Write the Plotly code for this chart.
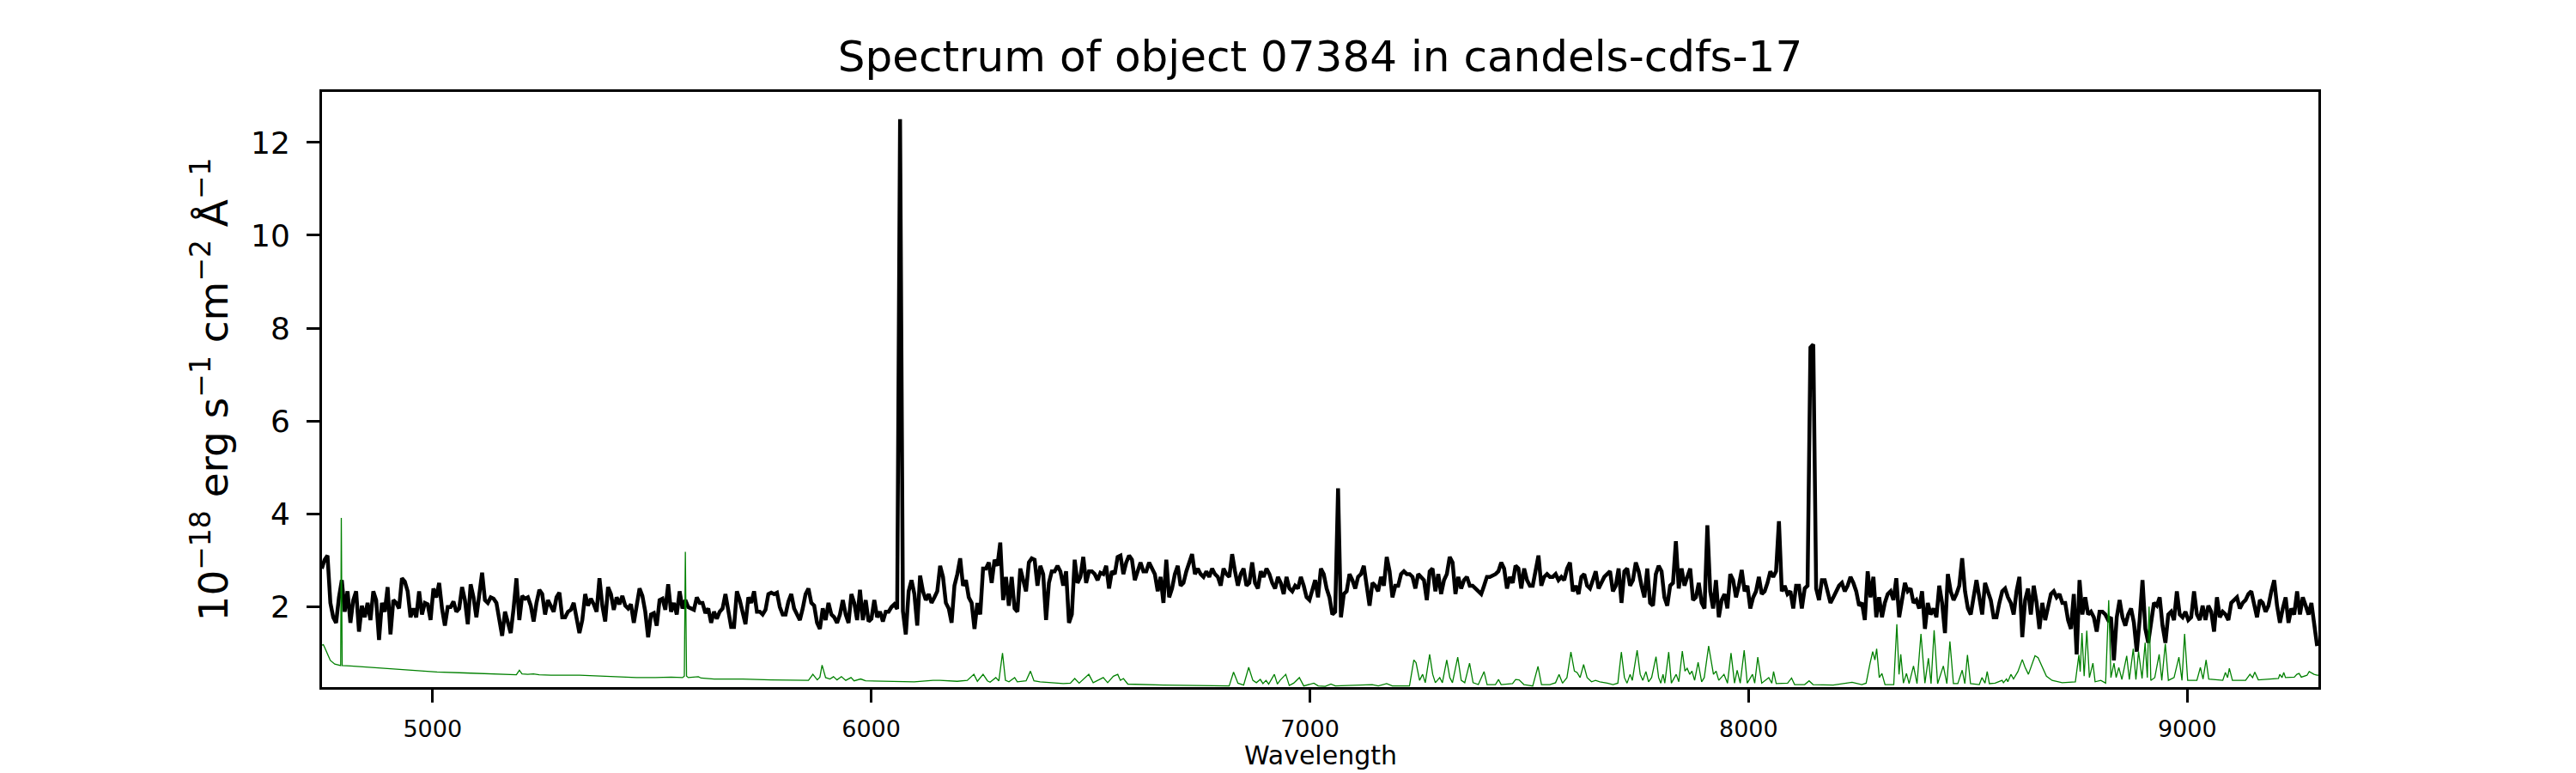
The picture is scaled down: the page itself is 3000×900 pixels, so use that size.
import numpy as np
import plotly.graph_objects as go

TITLE = "Spectrum of object 07384 in candels-cdfs-17"
X_LABEL = "Wavelength"
Y_LABEL = "10<sup>\u221218</sup> erg s<sup>\u22121</sup> cm<sup>\u22122</sup> \u00c5<sup>\u22121</sup>"
X_TICKS = [5000, 6000, 7000, 8000, 9000]
Y_TICKS = [2, 4, 6, 8, 10, 12]

# object spectrum, sampled on a regular wavelength grid
WAVE_START = 4747.5
WAVE_STEP = 6.526
FLUX = [
    2.82, 3.01, 3.10, 2.08, 1.77, 1.65, 2.20, 2.57, 1.89, 2.33,
    1.65, 2.14, 2.33, 1.46, 2.02, 1.77, 2.08, 1.71, 2.33, 2.14,
    1.28, 2.08, 1.89, 2.42, 1.40, 2.14, 2.08, 1.96, 2.61, 2.54,
    2.33, 1.77, 1.96, 1.77, 2.33, 1.83, 2.08, 2.05, 1.71, 2.39,
    2.20, 2.51, 1.96, 1.59, 1.99, 1.99, 2.11, 1.89, 1.96, 2.42,
    2.14, 1.62, 2.48, 2.20, 1.77, 2.20, 2.73, 2.14, 2.08, 2.20,
    2.17, 2.08, 1.71, 1.37, 1.89, 1.65, 1.43, 1.96, 2.61, 1.71,
    2.23, 2.17, 2.20, 2.02, 1.68, 2.08, 2.36, 2.27, 1.83, 2.14,
    2.02, 1.89, 2.20, 2.30, 1.77, 1.77, 1.89, 1.93, 2.08, 1.71,
    1.43, 1.71, 2.27, 2.02, 2.17, 2.05, 1.89, 2.61, 2.02, 1.68,
    2.42, 2.27, 1.93, 2.20, 2.05, 2.23, 2.02, 1.96, 2.05, 1.65,
    2.08, 2.39, 2.23, 1.89, 1.34, 1.83, 1.86,
    1.59, 2.14, 2.17, 1.93, 2.48, 1.89, 2.08, 1.83, 2.33, 1.96,
    2.14, 1.99, 1.96, 1.93, 2.20, 2.08, 2.08, 1.86, 1.96, 1.65,
    1.89, 1.74, 1.89, 1.96, 2.27, 1.89, 1.56, 1.56, 2.33, 2.14,
    1.89, 1.62, 2.20, 2.08, 2.33, 1.89, 1.89, 1.83, 1.93, 2.27,
    2.30, 2.27, 2.30, 1.99, 1.83, 1.83, 2.11, 2.27, 1.96, 1.83,
    1.71, 1.96, 2.27, 2.39, 2.08, 2.02, 1.65, 1.52, 1.96, 1.71,
    2.08, 1.83, 1.77, 1.65, 1.83, 2.14, 1.83, 1.65, 2.27, 2.08,
    1.71, 2.36, 1.71, 2.14, 1.68, 1.74, 2.14, 1.77, 1.89, 1.68,
    1.89, 1.89, 1.99, 2.05, 1.95, 12.50, 1.90, 1.40, 2.33, 2.57,
    2.27, 1.59, 2.67, 2.33, 2.14, 2.27, 2.08, 2.20, 2.33, 2.88,
    2.64, 2.08, 1.96, 1.65, 2.45, 2.70, 3.04, 2.45, 2.57, 2.20,
    2.08, 1.52, 2.08, 1.83, 2.82, 2.82, 2.95,
    2.51, 3.01, 2.88, 3.38, 2.14, 2.64, 2.02, 2.64, 1.96, 1.89,
    2.82, 2.57, 2.33, 2.95, 3.04, 3.01, 2.45, 2.88, 2.70, 1.71,
    2.51, 2.76, 2.76, 2.88, 2.76, 2.45, 2.76, 1.65, 1.83, 3.01,
    2.51, 2.64, 3.07, 2.51, 2.76, 2.76, 2.70, 2.57, 2.73, 2.70,
    2.88, 2.39, 2.76, 2.70, 3.07, 3.10, 2.70, 2.95, 3.10, 3.01,
    2.57, 2.76, 2.95, 2.76, 2.76, 2.95, 2.82, 2.70, 2.33, 2.64,
    2.08, 3.01, 2.20, 2.39, 2.70, 2.88, 2.45, 2.51, 2.76, 2.95,
    3.13, 2.70, 2.82, 2.70, 2.64, 2.76, 2.64, 2.82, 2.70, 2.64,
    2.45, 2.82, 2.70, 2.64, 3.13, 2.76, 2.45, 2.70, 2.82, 2.45,
    2.51, 2.95, 2.51, 2.39, 2.76, 2.64, 2.82, 2.70, 2.51, 2.39,
    2.64, 2.51, 2.27, 2.64, 2.39, 2.33, 2.45, 2.39, 2.64, 2.45,
    2.20, 2.14, 2.33, 2.57, 2.20, 2.82, 2.70,
    2.39, 2.20, 1.83, 1.89, 4.55, 1.77, 2.27, 2.33, 2.70, 2.57,
    2.39, 2.64, 2.70, 2.88, 2.45, 2.02, 2.51, 2.45, 2.33, 2.64,
    2.45, 3.07, 2.76, 2.20, 2.45, 2.45, 2.70, 2.76, 2.70, 2.70,
    2.64, 2.39, 2.70, 2.64, 2.57, 2.14, 2.76, 2.82, 2.33, 2.70,
    2.27, 2.57, 2.70, 3.07, 2.95, 2.27, 2.64, 2.39, 2.57, 2.64,
    2.45, 2.45, 2.39, 2.33, 2.27, 2.45, 2.64, 2.64, 2.67, 2.70,
    2.76, 2.95, 2.82, 2.39, 2.64, 2.51, 2.88, 2.82, 2.39, 2.82,
    2.57, 2.45, 2.45, 2.76, 3.10, 2.45, 2.64, 2.70, 2.64, 2.64,
    2.70, 2.57, 2.64, 2.57, 2.82, 2.95, 2.33, 2.45, 2.27, 2.64,
    2.70, 2.45, 2.39, 2.57, 2.76, 2.39, 2.51, 2.64, 2.70, 2.76,
    2.33, 2.45, 2.82, 2.08, 2.76, 2.82, 2.45, 2.57, 2.95, 2.76,
    2.45, 2.20, 2.82, 2.08, 2.02, 2.70, 2.88,
    2.76, 2.20, 2.02, 2.45, 2.51, 3.41, 2.39, 2.82, 2.45, 2.64,
    2.82, 2.14, 2.20, 2.51, 2.08, 1.96, 3.75, 2.33, 1.96, 2.57,
    1.77, 2.14, 2.27, 1.96, 2.70, 2.57, 2.20, 2.45, 2.79, 2.33,
    2.45, 1.96, 2.20, 2.33, 2.64, 2.27, 2.33, 2.51, 2.76, 2.64,
    2.76, 3.84, 2.33, 2.45, 2.27, 2.33, 1.96, 2.45, 2.45, 1.96,
    2.39, 2.45, 7.58, 7.65, 2.39, 2.14, 2.57, 2.57, 2.33, 2.08,
    2.20, 2.33, 2.45, 2.51, 2.33, 2.45, 2.64, 2.51, 2.33, 2.02,
    2.08, 1.71, 2.76, 2.20, 2.64, 1.77, 2.20, 1.77, 2.08, 2.27,
    2.33, 2.14, 2.61, 1.77, 2.20, 2.51, 2.33, 2.39, 2.08, 2.14,
    1.96, 2.33, 1.52, 2.08, 1.83, 1.96, 1.77, 2.45, 2.08, 1.43,
    2.70, 2.33, 2.14, 2.27, 2.45, 3.04, 2.33, 1.96, 1.83, 2.20,
    2.57, 2.20, 1.83, 2.51, 2.33, 2.14, 1.77,
    1.77, 2.08, 2.33, 2.39, 2.20, 2.08, 1.83, 2.33, 2.64, 1.34,
    2.14, 2.39, 1.83, 2.45, 2.08, 1.52, 2.08, 1.71, 2.02, 2.27,
    2.33, 2.20, 2.27, 2.08, 2.08, 1.71, 1.52, 2.27, 0.97, 2.57,
    1.83, 2.20, 1.83, 1.89, 1.77, 1.46, 1.89, 1.89, 1.83, 1.71,
    1.77, 0.84, 1.77, 2.14, 1.77, 1.59, 1.83, 1.96, 1.65, 1.03,
    1.71, 2.57, 1.52, 1.22, 1.65, 2.08, 2.02, 2.20, 1.59, 1.22,
    1.83, 1.89, 1.71, 2.33, 1.83, 1.77, 1.89, 1.71, 1.77, 2.33,
    1.83, 1.71, 2.02, 1.71, 2.02, 1.89, 1.46, 2.20, 1.77, 1.89,
    1.83, 1.71, 2.08, 2.14, 2.20, 1.96, 2.08, 2.14, 2.27, 2.33,
    2.08, 1.77, 2.14, 2.08, 1.89, 2.02, 2.33, 2.57, 2.02, 1.65,
    1.96, 2.20, 1.65, 1.96, 1.83, 2.33, 1.83, 2.20, 2.02, 1.83,
    2.08, 1.59, 1.15,
]

# sky / noise spectrum (green)
SKY_WAVE = [
    4748, 4751, 4754, 4761, 4767, 4777, 4788, 4790.6, 4792, 4794, 4813, 4845, 4878, 4943, 5009,
    5074, 5139, 5178, 5191, 5198, 5204, 5217, 5230, 5243, 5270, 5335, 5400, 5465, 5508, 5544,
    5570, 5574, 5576.3, 5579, 5583, 5606, 5612, 5642, 5707, 5772, 5857, 5867, 5877, 5883, 5888,
    5896, 5906, 5914, 5922, 5932, 5942, 5954, 5961, 5976, 5987, 6033, 6098, 6141, 6157, 6196,
    6219, 6234, 6242, 6255, 6265, 6271, 6284, 6291, 6299.3, 6306, 6314, 6327, 6333, 6353, 6363,
    6371, 6385, 6438, 6454, 6464, 6474, 6496, 6506, 6529, 6539, 6552, 6562, 6568, 6575, 6585,
    6666, 6816, 6826, 6836, 6849, 6860.5, 6870, 6878, 6887, 6893, 6900, 6906, 6919, 6926, 6932,
    6945, 6953, 6963, 6976, 6986, 7009, 7019, 7035, 7048, 7058, 7142, 7156, 7175, 7188, 7227,
    7237, 7242, 7250, 7257, 7263, 7273, 7280, 7286, 7296, 7302, 7312, 7319, 7325, 7337, 7345,
    7353, 7364, 7372, 7384, 7397, 7404, 7423, 7430, 7436, 7462, 7469, 7477, 7488, 7508, 7520,
    7528, 7547, 7560, 7568, 7576, 7586, 7595, 7603, 7609, 7616, 7624, 7632, 7642, 7651, 7661,
    7678, 7691, 7702, 7710, 7717, 7723, 7730, 7735, 7746, 7753, 7759, 7766, 7772, 7779, 7789,
    7795, 7800, 7805, 7809, 7818, 7824, 7835, 7841, 7849, 7855, 7860, 7866, 7871, 7877, 7885,
    7893, 7899, 7909, 7916, 7920, 7926, 7932, 7944, 7952, 7960, 7968, 7974, 7981, 7990, 7997,
    8009, 8014, 8021, 8030, 8046, 8053, 8057, 8063, 8089, 8098, 8105, 8128, 8138, 8147, 8193,
    8236, 8258, 8268, 8277, 8283, 8288, 8292, 8298, 8304, 8311, 8331, 8338, 8343, 8347, 8353,
    8360, 8366, 8376, 8384, 8393, 8402, 8410, 8416, 8423, 8431, 8444, 8452, 8459, 8467, 8477,
    8487, 8493, 8499, 8506, 8526, 8532, 8539, 8544, 8549, 8562, 8578, 8581, 8588, 8591, 8598,
    8604, 8614, 8624, 8630, 8638, 8647, 8653, 8660, 8669, 8679, 8692, 8715, 8745, 8753, 8756,
    8760, 8765, 8771, 8777, 8785, 8790, 8803, 8814, 8821, 8826, 8833, 8838, 8844, 8851, 8862,
    8868, 8877, 8883, 8889, 8897, 8904, 8909, 8913, 8917, 8926, 8936, 8942, 8950, 8957, 8970,
    8981, 8988, 8994, 9001, 9022, 9030, 9036, 9043, 9049, 9081, 9087, 9092, 9096, 9103, 9133,
    9143, 9149, 9154, 9162, 9208, 9211, 9216, 9220, 9224, 9244, 9250, 9255, 9260, 9273, 9278,
    9285, 9289, 9296, 9300,
]
SKY_FLUX = [
    1.17, 1.18, 1.12, 0.97, 0.84, 0.76, 0.73, 0.73, 3.91, 0.73, 0.72, 0.70, 0.67, 0.63, 0.59,
    0.57, 0.55, 0.53, 0.53, 0.63, 0.55, 0.54, 0.55, 0.53, 0.52, 0.52, 0.49, 0.47, 0.47, 0.48,
    0.47, 0.50, 3.18, 0.50, 0.47, 0.49, 0.46, 0.44, 0.44, 0.42, 0.41, 0.54, 0.42, 0.48, 0.74,
    0.47, 0.44, 0.49, 0.42, 0.49, 0.41, 0.47, 0.40, 0.44, 0.40, 0.39, 0.38, 0.41, 0.41, 0.39,
    0.41, 0.54, 0.39, 0.54, 0.40, 0.37, 0.47, 0.40, 1.00, 0.41, 0.38, 0.47, 0.38, 0.40, 0.61,
    0.40, 0.38, 0.34, 0.35, 0.45, 0.35, 0.54, 0.36, 0.47, 0.36, 0.50, 0.54, 0.41, 0.45, 0.33,
    0.31, 0.29, 0.59, 0.35, 0.31, 0.69, 0.41, 0.36, 0.43, 0.34, 0.41, 0.33, 0.54, 0.33, 0.41,
    0.54, 0.30, 0.35, 0.47, 0.29, 0.35, 0.29, 0.28, 0.33, 0.29, 0.32, 0.29, 0.34, 0.29, 0.29,
    0.85, 0.79, 0.41, 0.54, 0.36, 0.97, 0.54, 0.36, 0.47, 0.36, 0.85, 0.47, 0.36, 0.91, 0.41,
    0.36, 0.78, 0.36, 0.32, 0.60, 0.32, 0.32, 0.43, 0.32, 0.34, 0.43, 0.42, 0.32, 0.29, 0.71,
    0.32, 0.32, 0.36, 0.54, 0.35, 0.47, 1.02, 0.61, 0.58, 0.47, 0.75, 0.47, 0.38, 0.41, 0.38,
    0.35, 0.32, 0.35, 1.02, 0.47, 0.35, 0.54, 0.41, 1.06, 0.54, 0.41, 0.60, 0.38, 0.47, 0.92,
    0.47, 0.35, 0.54, 0.35, 1.02, 0.35, 0.54, 0.38, 1.04, 0.61, 0.67, 0.54, 0.61, 0.41, 0.80,
    0.38, 0.47, 1.15, 0.78, 0.54, 0.61, 0.41, 0.54, 0.35, 1.00, 0.35, 0.63, 0.35, 1.06, 0.35,
    0.54, 0.35, 0.91, 0.35, 0.47, 0.35, 0.60, 0.34, 0.35, 0.46, 0.32, 0.32, 0.40, 0.32, 0.31,
    0.37, 0.32, 0.35, 0.78, 1.03, 0.85, 1.09, 0.47, 0.56, 0.32, 0.32, 1.62, 0.54, 0.97, 0.35,
    0.56, 0.34, 0.72, 0.34, 1.41, 0.35, 0.89, 0.34, 1.49, 0.34, 0.72, 0.34, 1.25, 0.34, 0.34,
    0.63, 0.34, 0.96, 0.34, 0.32, 0.47, 0.35, 0.60, 0.34, 0.35, 0.41, 0.36, 0.44, 0.38, 0.54,
    0.44, 0.60, 0.86, 0.70, 0.54, 0.80, 0.94, 0.90, 0.70, 0.50, 0.41, 0.36, 0.38, 0.96, 0.60,
    1.43, 0.50, 1.48, 0.47, 0.78, 0.38, 0.41, 0.35, 2.14, 0.47, 0.78, 0.47, 0.69, 0.43, 0.94,
    0.43, 1.09, 0.43, 1.03, 0.45, 1.22, 0.47, 2.00, 0.41, 0.47, 0.97, 0.41, 1.20, 0.41, 0.47,
    0.91, 0.41, 1.41, 0.41, 0.41, 0.69, 0.44, 0.85, 0.44, 0.41, 0.58, 0.47, 0.67, 0.41, 0.41,
    0.54, 0.47, 0.59, 0.42, 0.45, 0.54, 0.47, 0.58, 0.47, 0.48, 0.54, 0.56, 0.48, 0.52, 0.60,
    0.56, 0.54, 0.52, 0.52,
]

wave = WAVE_START + WAVE_STEP * np.arange(len(FLUX))

fig = go.Figure()
fig.add_trace(go.Scatter(x=wave, y=FLUX, mode="lines",
                         line=dict(color="black", width=4.5), hoverinfo="skip"))
fig.add_trace(go.Scatter(x=SKY_WAVE, y=SKY_FLUX, mode="lines",
                         line=dict(color="#008000", width=1.3), hoverinfo="skip"))

FONT = "DejaVu Sans"
PLOT_TOP, PLOT_BOTTOM = 107, 800
fig.update_layout(
    width=3000, height=900,
    margin=dict(l=375, r=300, t=PLOT_TOP, b=900 - PLOT_BOTTOM, autoexpand=False),
    paper_bgcolor="white", plot_bgcolor="white",
    showlegend=False,
    font=dict(family=FONT, color="black"),
    title=dict(text=TITLE, x=0.5, xref="paper", xanchor="center",
               y=1 - 65 / 900, yref="container", yanchor="middle",
               font=dict(family=FONT, size=50, color="black")),
)
# x-axis label placed just under the tick labels
fig.add_annotation(text=X_LABEL, xref="paper", yref="paper", x=0.5,
                   y=-(879 - PLOT_BOTTOM) / (PLOT_BOTTOM - PLOT_TOP),
                   xanchor="center", yanchor="middle", showarrow=False,
                   font=dict(family=FONT, size=30, color="black"))

axis_common = dict(showline=True, mirror=True, linecolor="black", linewidth=3,
                   ticks="outside", ticklen=15, tickwidth=3, tickcolor="black",
                   showgrid=False, zeroline=False, automargin=False)
fig.update_xaxes(range=[4748, 9299], tickvals=X_TICKS,
                 ticktext=[str(v) for v in X_TICKS],
                 tickfont=dict(family=FONT, size=27, color="black"),
                 ticklabelstandoff=8,
                 **axis_common)
fig.update_yaxes(range=[0.265, 13.09], tickvals=Y_TICKS,
                 ticktext=[str(v) for v in Y_TICKS],
                 tickfont=dict(family=FONT, size=36, color="black"),
                 ticklabelstandoff=12,
                 title=dict(text=Y_LABEL, font=dict(family=FONT, size=47, color="black"),
                            standoff=12),
                 **axis_common)

fig.write_html("out.html", config={"displayModeBar": False},
               post_script="document.body.style.margin='0px';document.body.style.padding='0px';")
